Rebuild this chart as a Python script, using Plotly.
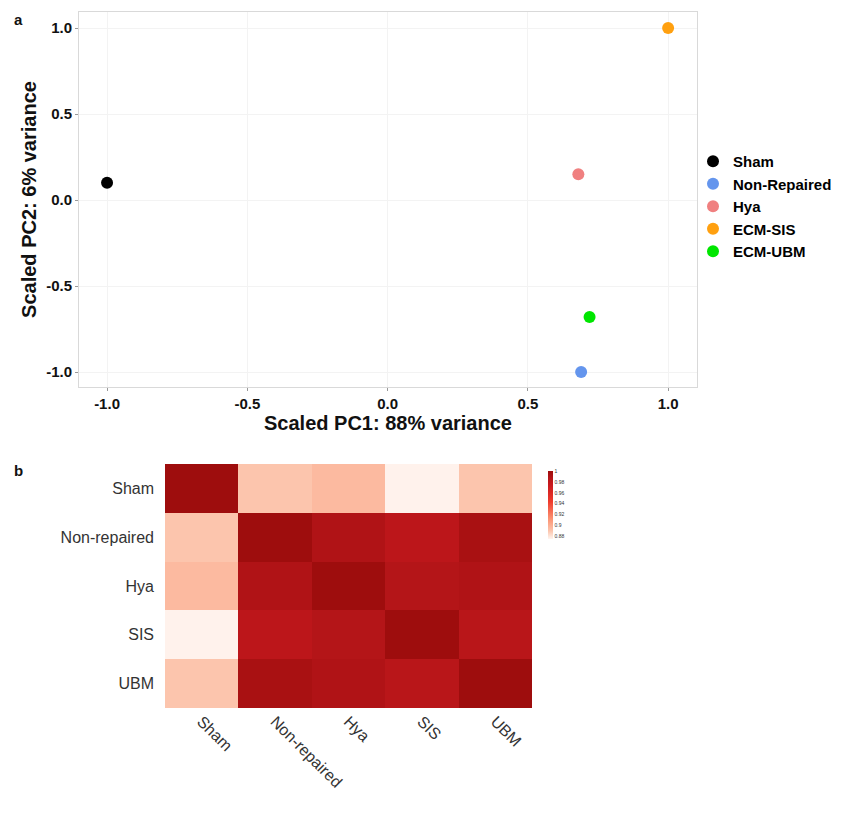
import plotly.graph_objects as go

# ---- Panel a: PCA scatter data ----
groups = ["Sham", "Non-Repaired", "Hya", "ECM-SIS", "ECM-UBM"]
pc1 = [-1.0, 0.69, 0.68, 1.0, 0.72]
pc2 = [0.10, -1.0, 0.15, 1.0, -0.68]
colors = ["#000000", "#6495ED", "#F08080", "#FFA010", "#00E600"]

# ---- Panel b: correlation heatmap data ----
hm_labels = ["Sham", "Non-repaired", "Hya", "SIS", "UBM"]
corr = [
    [1.000, 0.890, 0.895, 0.876, 0.890],
    [0.890, 1.000, 0.990, 0.983, 0.994],
    [0.895, 0.990, 1.000, 0.988, 0.990],
    [0.876, 0.983, 0.988, 1.000, 0.985],
    [0.890, 0.994, 0.990, 0.985, 1.000],
]
cbar_vals = [1.0, 0.98, 0.96, 0.94, 0.92, 0.90, 0.88]
cbar_text = ["1", "0.98", "0.96", "0.94", "0.92", "0.9", "0.88"]

# page body has an 8px margin; the figure is sized to fit the window
OFF = 8
W, H = 858 - OFF, 814 - OFF
FONT = "Liberation Sans, Arial, sans-serif"


def px(x):
    return (x - OFF) / W


def py(y):
    return 1 - (y - OFF) / H


fig = go.Figure()

for g, x, y, c in zip(groups, pc1, pc2, colors):
    fig.add_trace(go.Scatter(
        x=[x], y=[y], mode="markers", name=g,
        marker=dict(color=c, size=12),
        xaxis="x", yaxis="y",
    ))

fig.add_trace(go.Heatmap(
    z=corr, x=hm_labels, y=hm_labels,
    xaxis="x2", yaxis="y2",
    zmin=0.875, zmax=1.0,
    colorscale=[
        [0.0, "#FFF5F0"],
        [0.12, "#FCC5AD"],
        [0.30, "#FC9272"],
        [0.55, "#EF3B2C"],
        [0.80, "#C8181D"],
        [0.90, "#B51518"],
        [1.0, "#9E0D0D"],
    ],
    showscale=True,
    colorbar=dict(
        x=px(548), xanchor="left",
        y=py(471), yanchor="top",
        len=68, lenmode="pixels",
        thickness=5, thicknessmode="pixels",
        outlinewidth=0,
        tickvals=cbar_vals, ticktext=cbar_text,
        tickfont=dict(size=5, family=FONT, color="#333"),
        ticks="", ticklen=0, xpad=0, ypad=0,
    ),
    hoverinfo="x+y+z",
))

fig.update_layout(
    width=W, height=H,
    margin=dict(l=0, r=0, t=0, b=0),
    paper_bgcolor="white", plot_bgcolor="white",
    font=dict(family=FONT, color="#000"),
    showlegend=True,
    legend=dict(
        x=px(693), y=py(145), xanchor="left", yanchor="top",
        font=dict(size=15, family=FONT, weight="bold", color="#000"),
        itemsizing="constant", bgcolor="rgba(0,0,0,0)",
        tracegroupgap=0,
    ),
    xaxis=dict(
        domain=[px(79), px(697)], range=[-1.1, 1.103],
        tickvals=[-1.0, -0.5, 0.0, 0.5, 1.0], ticktext=["-1.0", "-0.5", "0.0", "0.5", "1.0"],
        tickfont=dict(size=15, weight="bold", color="#111"),
        ticks="outside", ticklen=3, tickcolor="#999",
        showgrid=True, gridcolor="#F3F3F3", zeroline=False,
        showline=True, linecolor="#D9D9D9", linewidth=1, mirror=True,
        title=dict(text="Scaled PC1: 88% variance", font=dict(size=20, weight="bold", color="#111"), standoff=0),
        automargin=False, anchor="y",
    ),
    yaxis=dict(
        domain=[py(387), py(12)], range=[-1.087, 1.093],
        tickvals=[-1.0, -0.5, 0.0, 0.5, 1.0], ticktext=["-1.0", "-0.5", "0.0", "0.5", "1.0"],
        tickfont=dict(size=15, weight="bold", color="#111"),
        ticks="outside", ticklen=3, tickcolor="#999",
        showgrid=True, gridcolor="#F3F3F3", zeroline=False,
        showline=True, linecolor="#D9D9D9", linewidth=1, mirror=True,
        title=dict(text="Scaled PC2: 6% variance", font=dict(size=20, weight="bold", color="#111"), standoff=4),
        automargin=False, anchor="x",
    ),
    xaxis2=dict(
        domain=[px(165), px(532)], anchor="y2",
        tickangle=45, tickfont=dict(size=16, color="#333"),
        ticks="", showgrid=False, zeroline=False, showline=False,
        automargin=False,
    ),
    yaxis2=dict(
        domain=[py(708), py(464)], anchor="x2",
        autorange="reversed", tickfont=dict(size=16, color="#333"),
        ticks="", showgrid=False, zeroline=False, showline=False,
        ticklabelstandoff=10,
        automargin=False,
    ),
    annotations=[
        dict(text="a", x=px(12), y=py(9), xref="paper", yref="paper",
             xanchor="left", yanchor="top", showarrow=False,
             font=dict(size=15, weight="bold", color="#111")),
        dict(text="b", x=px(12), y=py(460), xref="paper", yref="paper",
             xanchor="left", yanchor="top", showarrow=False,
             font=dict(size=15, weight="bold", color="#111")),
    ],
)

fig.write_html("out.html")
